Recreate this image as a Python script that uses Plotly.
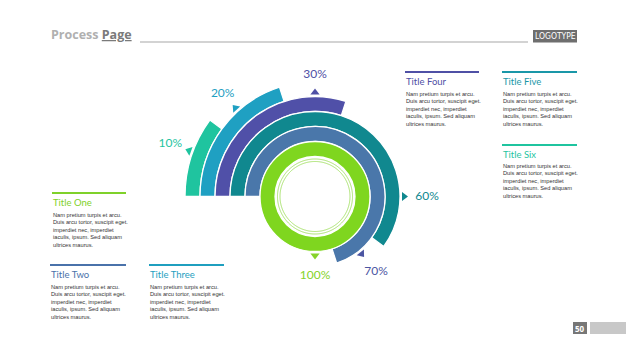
import numpy as np
import plotly.graph_objects as go

W, H = 626, 352

# ---- data ----
percents = [10, 20, 30, 60, 70, 100]
pct_labels = ["10%", "20%", "30%", "60%", "70%", "100%"]
ring_colors = ["#1fc49f", "#1fa0c2", "#5050a8", "#10888f", "#4a77aa", "#7fd61f"]
label_colors = ["#1fc49f", "#1fa0c2", "#4f50a5", "#10888f", "#4b55a2", "#86d32a"]
titles = ["Title One", "Title Two", "Title Three", "Title Four", "Title Five", "Title Six"]
title_colors = ["#7fd12a", "#4a72aa", "#1f9fbf", "#4f50a5", "#1a97a8", "#1fc49f"]
body_text = ["Nam pretium turpis et arcu.", "Duis arcu tortor, suscipit eget.",
             "imperdiet nec, imperdiet", "iaculis, ipsum. Sed aliquam", "ultrices maurus."]

# ---- layout config (pixels) ----
CX, CY = 315, 196.5
RMAX = 155
ring_outer = [130, 115, 100, 85, 70, 55]
ring_thick = [15, 15, 15, 15, 15, 15]
pointer_angles = [20, 48, 90, 180, 231, 270]
label_offsets = [24, 23, 22, 27, 27, 24]
# title blocks: (left x, rule y, rule length)
blocks = [(52, 193, 74), (50, 265, 76), (149, 265, 75),
          (405, 72, 74), (502, 72, 75), (502, 145, 75)]

def px(x):
    return x / W

def py(y):
    return 1 - y / H

fig = go.Figure()

sweeps = [p * 3.6 for p in percents]
fig.add_trace(go.Barpolar(
    r=ring_thick,
    base=[o - t for o, t in zip(ring_outer, ring_thick)],
    theta=[s / 2 for s in sweeps],
    width=sweeps,
    marker=dict(color=ring_colors, line=dict(color="white", width=1.3)),
    hoverinfo="skip", showlegend=False,
))

# inner decorative thin circles
circ = np.linspace(0, 360, 361)
for rr in (37.5, 35):
    fig.add_trace(go.Scatterpolar(
        r=[rr] * len(circ), theta=circ, mode="lines",
        line=dict(color="#a6e06a", width=1), hoverinfo="skip", showlegend=False))

# pointer triangles (pointing outward)
fig.add_trace(go.Scatterpolar(
    r=[o + 4 for o in ring_outer], theta=pointer_angles, mode="markers",
    marker=dict(symbol="triangle-up", size=8, color=label_colors,
                angle=[270 + a for a in pointer_angles]),
    cliponaxis=False, hoverinfo="skip", showlegend=False))

# percent labels
fig.add_trace(go.Scatterpolar(
    r=[o + d for o, d in zip(ring_outer, label_offsets)], theta=pointer_angles,
    mode="text", text=pct_labels,
    textfont=dict(family="Lato, Open Sans, sans-serif", size=12, color=label_colors),
    cliponaxis=False, hoverinfo="skip", showlegend=False))

fig.update_layout(
    width=W, height=H, margin=dict(l=0, r=0, t=0, b=0),
    paper_bgcolor="white", plot_bgcolor="white",
    polar=dict(
        domain=dict(x=[px(CX - RMAX), px(CX + RMAX)], y=[py(CY + RMAX), py(CY - RMAX)]),
        bgcolor="rgba(0,0,0,0)",
        radialaxis=dict(range=[0, RMAX], visible=False, showgrid=False),
        angularaxis=dict(rotation=180, direction="clockwise", visible=False, showgrid=False),
        bargap=0,
    ),
)

shapes = []
annotations = []

# header
annotations.append(dict(
    x=px(49), y=py(35), xref="paper", yref="paper", xanchor="left", yanchor="middle",
    text="<b><span style='color:#b0b0b0'>Process</span> <span style='color:#7a7a7a'><u>Page</u></span></b>",
    showarrow=False, font=dict(family="Open Sans, sans-serif", size=12.5)))
shapes.append(dict(type="line", xref="paper", yref="paper", x0=px(140), x1=px(528),
                   y0=py(42), y1=py(42), line=dict(color="#a8a8a8", width=1.2)))
shapes.append(dict(type="rect", xref="paper", yref="paper", x0=px(533), x1=px(577),
                   y0=py(30), y1=py(42.5), fillcolor="#6e6e6e", line=dict(width=0)))
annotations.append(dict(
    x=px(555), y=py(36.3), xref="paper", yref="paper", xanchor="center", yanchor="middle",
    text="LOGOTYPE", showarrow=False,
    font=dict(family="Liberation Sans Narrow, DejaVu Sans Condensed, sans-serif", size=8.5, color="white")))

# footer
shapes.append(dict(type="rect", xref="paper", yref="paper", x0=px(573), x1=px(587),
                   y0=py(322), y1=py(334), fillcolor="#777777", line=dict(width=0)))
shapes.append(dict(type="rect", xref="paper", yref="paper", x0=px(590), x1=px(626),
                   y0=py(322), y1=py(334), fillcolor="#c8c8c8", line=dict(width=0)))
annotations.append(dict(
    x=px(580), y=py(328), xref="paper", yref="paper", xanchor="center", yanchor="middle",
    text="<b>50</b>", showarrow=False,
    font=dict(family="Open Sans, sans-serif", size=8, color="white")))

# title blocks
for (bx, by, bl), t, c in zip(blocks, titles, title_colors):
    shapes.append(dict(type="line", xref="paper", yref="paper", x0=px(bx), x1=px(bx + bl),
                       y0=py(by), y1=py(by), line=dict(color=c, width=2.2)))
    annotations.append(dict(
        x=px(bx - 1), y=py(by + 9.5), xref="paper", yref="paper", xanchor="left", yanchor="middle",
        text=t, showarrow=False,
        font=dict(family="Lato, Open Sans, sans-serif", size=9.5, color=c)))
    annotations.append(dict(
        x=px(bx - 1), y=py(by + 16.5), xref="paper", yref="paper", xanchor="left", yanchor="top",
        text="<br>".join(body_text), showarrow=False, align="left",
        font=dict(family="Liberation Sans, Arial, sans-serif", size=5.7, color="#333333")))

fig.update_layout(shapes=shapes, annotations=annotations)
fig.write_html("out.html")
